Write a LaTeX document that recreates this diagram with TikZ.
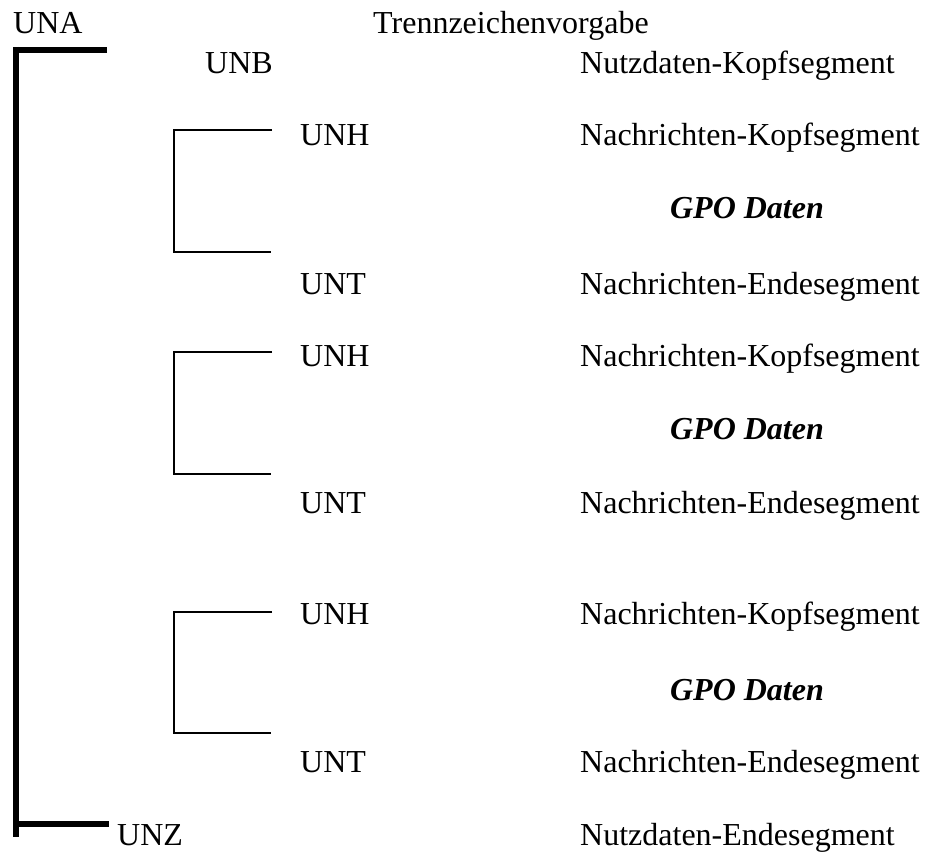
\documentclass[tikz,border=0pt]{standalone}
\usepackage{fontspec}
\setmainfont{Liberation Serif}
\usepackage{tikz}
\usetikzlibrary{positioning}
\tikzset{
    seglbl/.style={anchor=base west, inner sep=0pt, font=\fontsize{32}{37}\selectfont},
    gpolbl/.style={anchor=base, inner sep=0pt, font=\fontsize{32}{37}\selectfont\bfseries\itshape},
    outerbr/.style={line width=6pt},
    innerbr/.style={line width=2pt}
}

\begin{document}
\begin{tikzpicture}[x=1pt, y=-1pt]
    \useasboundingbox (0,0) rectangle (925,851);

    % Interchange head
    \node[seglbl] (una) at (13,34) {UNA};
    \node[seglbl] (trenn) at (373,34) {Trennzeichenvorgabe};
    \node[seglbl] (unb) at (205,73) {UNB};
    \node[seglbl] (nkopf) at (580,73) {Nutzdaten-Kopfsegment};

    % Messages
    \foreach \t/\b/\h/\g/\e/\n in {130/252/145/218/294/1, 352/474/366/439/513/2, 612/733/624/700/772/3} {
        \node[seglbl] (unh\n) at (300,\h) {UNH};
        \node[seglbl] (kopf\n) at (580,\h) {Nachrichten-Kopfsegment};
        \node[gpolbl] (gpo\n) at (747,\g) {GPO Daten};
        \node[seglbl] (unt\n) at (300,\e) {UNT};
        \node[seglbl] (ende\n) at (580,\e) {Nachrichten-Endesegment};
        \draw[innerbr] (272,\t) -- (174,\t) -- (174,\b) -- (271,\b);
    }

    % Interchange trailer
    \node[seglbl] (unz) at (117,845) {UNZ};
    \node[seglbl] (nende) at (580,845) {Nutzdaten-Endesegment};

    % Interchange bracket
    \draw[outerbr] (107,50) -- (13,50);
    \draw[outerbr] (16,47) -- (16,837);
    \draw[outerbr] (13,824) -- (109,824);
\end{tikzpicture}
\end{document}
